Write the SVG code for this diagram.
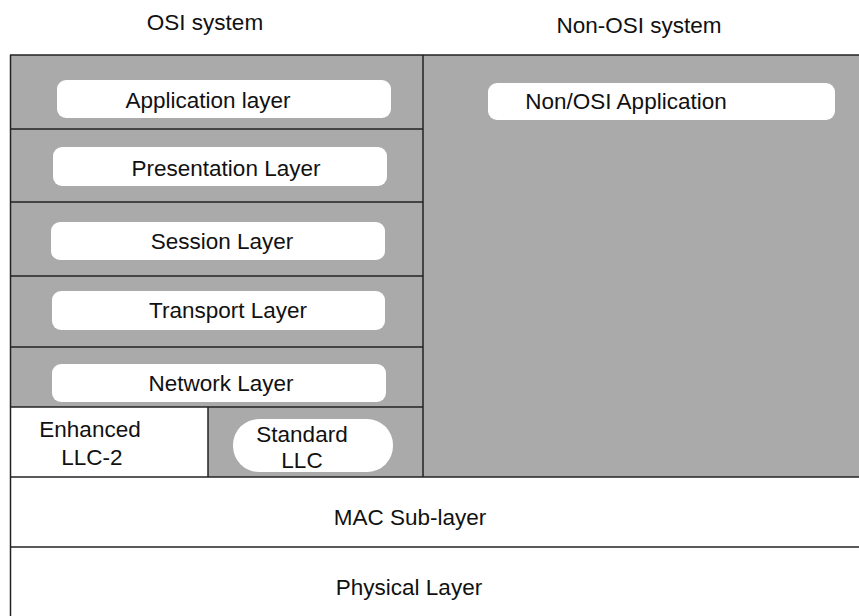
<svg xmlns="http://www.w3.org/2000/svg" width="859" height="616" viewBox="0 0 859 616">
  <style>
    text { font-family: "Liberation Sans", Arial, sans-serif; font-size: 22.5px; fill: #111; text-anchor: middle; }
    .line { stroke: #222; stroke-width: 1.5; fill: none; }
    .pill { fill: #fff; }
  </style>
  <rect x="0" y="0" width="859" height="616" fill="#fff"/>
  <text x="205" y="30">OSI system</text>
  <text x="639" y="33">Non-OSI system</text>

  <!-- shaded upper-layer area -->
  <rect x="10" y="55" width="849" height="422" fill="#aaaaaa"/>
  <rect id="enh-bg" x="10" y="407" width="198" height="70" fill="#fff"/>

  <g id="grid">
    <line class="line" x1="10" y1="55" x2="859" y2="55"/>
    <line class="line" x1="10.5" y1="55" x2="10.5" y2="616"/>
    <line class="line" x1="423" y1="55" x2="423" y2="477"/>
    <line class="line" x1="10" y1="129" x2="423" y2="129"/>
    <line class="line" x1="10" y1="202" x2="423" y2="202"/>
    <line class="line" x1="10" y1="276" x2="423" y2="276"/>
    <line class="line" x1="10" y1="347" x2="423" y2="347"/>
    <line class="line" x1="10" y1="407" x2="423" y2="407"/>
    <line class="line" x1="208" y1="407" x2="208" y2="477"/>
    <line class="line" x1="10" y1="477" x2="859" y2="477"/>
    <line class="line" x1="10" y1="547" x2="859" y2="547"/>
  </g>

  <g id="application">
    <rect class="pill" x="57" y="80" width="334" height="38" rx="9"/>
    <text x="208" y="108">Application layer</text>
  </g>
  <g id="presentation">
    <rect class="pill" x="53" y="147" width="334" height="39" rx="9"/>
    <text x="226" y="176">Presentation Layer</text>
  </g>
  <g id="session">
    <rect class="pill" x="51" y="222" width="334" height="38" rx="9"/>
    <text x="222" y="249">Session Layer</text>
  </g>
  <g id="transport">
    <rect class="pill" x="52" y="291" width="333" height="39" rx="9"/>
    <text x="228" y="318">Transport Layer</text>
  </g>
  <g id="network">
    <rect class="pill" x="52" y="364" width="334" height="38" rx="9"/>
    <text x="221" y="391">Network Layer</text>
  </g>
  <g id="enhanced-llc2">
    <text x="90" y="437">Enhanced</text>
    <text x="92" y="465">LLC-2</text>
  </g>
  <g id="standard-llc">
    <rect class="pill" x="233" y="419" width="160" height="53" rx="26"/>
    <text x="302" y="442">Standard</text>
    <text x="302" y="468">LLC</text>
  </g>
  <g id="non-osi-application">
    <rect class="pill" x="488" y="83" width="347" height="37" rx="9"/>
    <text x="626" y="109">Non/OSI Application</text>
  </g>
  <g id="mac">
    <text x="410" y="525">MAC Sub-layer</text>
  </g>
  <g id="physical">
    <text x="409" y="595">Physical Layer</text>
  </g>
</svg>
